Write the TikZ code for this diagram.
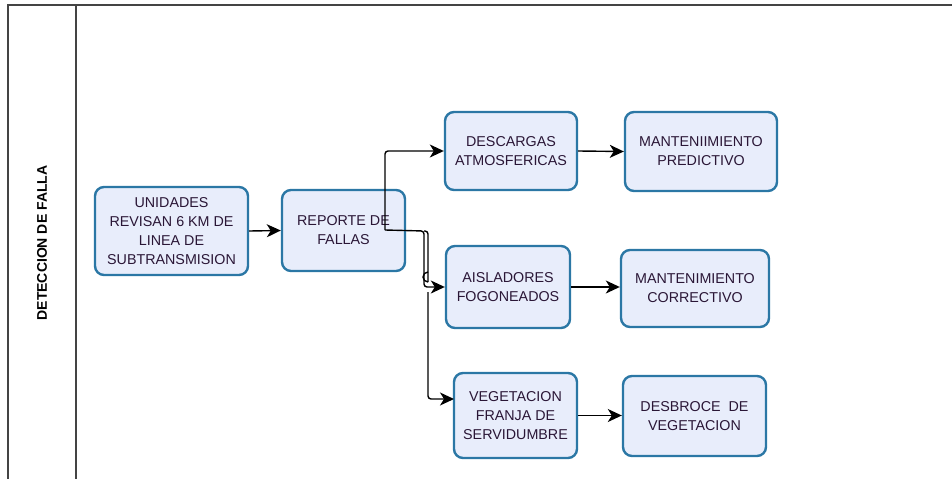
\documentclass[tikz,border=0pt]{standalone}
\usepackage{fontspec}
\setmainfont{Liberation Sans}
\usetikzlibrary{arrows.meta,calc}
\definecolor{boxfill}{HTML}{E8EDFB}
\definecolor{boxline}{HTML}{2B77A5}
\definecolor{txt}{HTML}{2A1636}
\definecolor{frame}{HTML}{444444}
\tikzset{
  procbox/.style={draw=boxline, line width=2.4pt, fill=boxfill, rounded corners=9pt,
    align=center, text=txt, font=\fontsize{14.3}{19}\selectfont, inner sep=0pt},
  tipshape/.tip={Stealth[length=14pt,width=13pt,inset=4pt]},
  conn/.style={draw=black, line width=1.4pt, arrows={-tipshape}, rounded corners=3pt},
  plainconn/.style={draw=black, line width=1.4pt, rounded corners=3pt},
  frameline/.style={draw=frame, line width=1.4pt}
}
\begin{document}
\begin{tikzpicture}[x=1pt,y=-1pt]
\useasboundingbox (0,0) rectangle (952,479);
% frame
\draw[frameline] (7,5) -- (952,5);
\draw[frameline] (8,5) -- (8,479);
\draw[frameline] (76,5) -- (76,479);
\node[rotate=90, font=\bfseries\fontsize{14}{16}\selectfont, text=black] (lane) at (42,243) {DETECCION DE FALLA};
% boxes
\node[procbox, minimum width=153pt, minimum height=88pt] (uni) at (171.5,231) {UNIDADES\\REVISAN 6 KM DE\\LINEA DE\\SUBTRANSMISION};
\node[procbox, minimum width=123pt, minimum height=81pt] (rep) at (343.5,230.5) {REPORTE DE\\FALLAS};
\node[procbox, minimum width=132pt, minimum height=78pt] (des) at (511,151) {DESCARGAS\\ATMOSFERICAS};
\node[procbox, minimum width=152pt, minimum height=79pt] (mp) at (701,151.5) {MANTENIIMIENTO\\PREDICTIVO};
\node[procbox, minimum width=124pt, minimum height=82pt] (ais) at (508,287) {AISLADORES\\FOGONEADOS};
\node[procbox, minimum width=148pt, minimum height=77pt] (mc) at (695,288.5) {MANTENIMIENTO\\CORRECTIVO};
\node[procbox, minimum width=123pt, minimum height=85pt] (veg) at (515.5,415.5) {VEGETACION\\FRANJA DE\\SERVIDUMBRE};
\node[procbox, minimum width=143pt, minimum height=80pt] (desb) at (694.5,416) {DESBROCE~~DE\\VEGETACION};
% connectors
\draw[conn] (uni.east) -- (rep.west);
\draw[conn] (des.east) -- (mp.west);
\draw[conn] (ais.east) -- (ais.east -| mc.west);
\draw[conn] (veg.east) -- (veg.east -| desb.west);
\coordinate (j) at (385,230);
\coordinate (k) at (424,231);
\coordinate (k2) at (428,231);
\coordinate (vin) at (454,399);
\draw[conn] (j) |- (des.west);
\draw[conn] (j) -- (k) |- (ais.west);
\draw[plainconn] (k) -- (k2) -- (428,282);
\draw[plainconn, sharp corners] (428,282) arc[start angle=-90, end angle=-270, radius=5pt];
\draw[conn] (428,292) |- (vin);
\end{tikzpicture}
\end{document}
